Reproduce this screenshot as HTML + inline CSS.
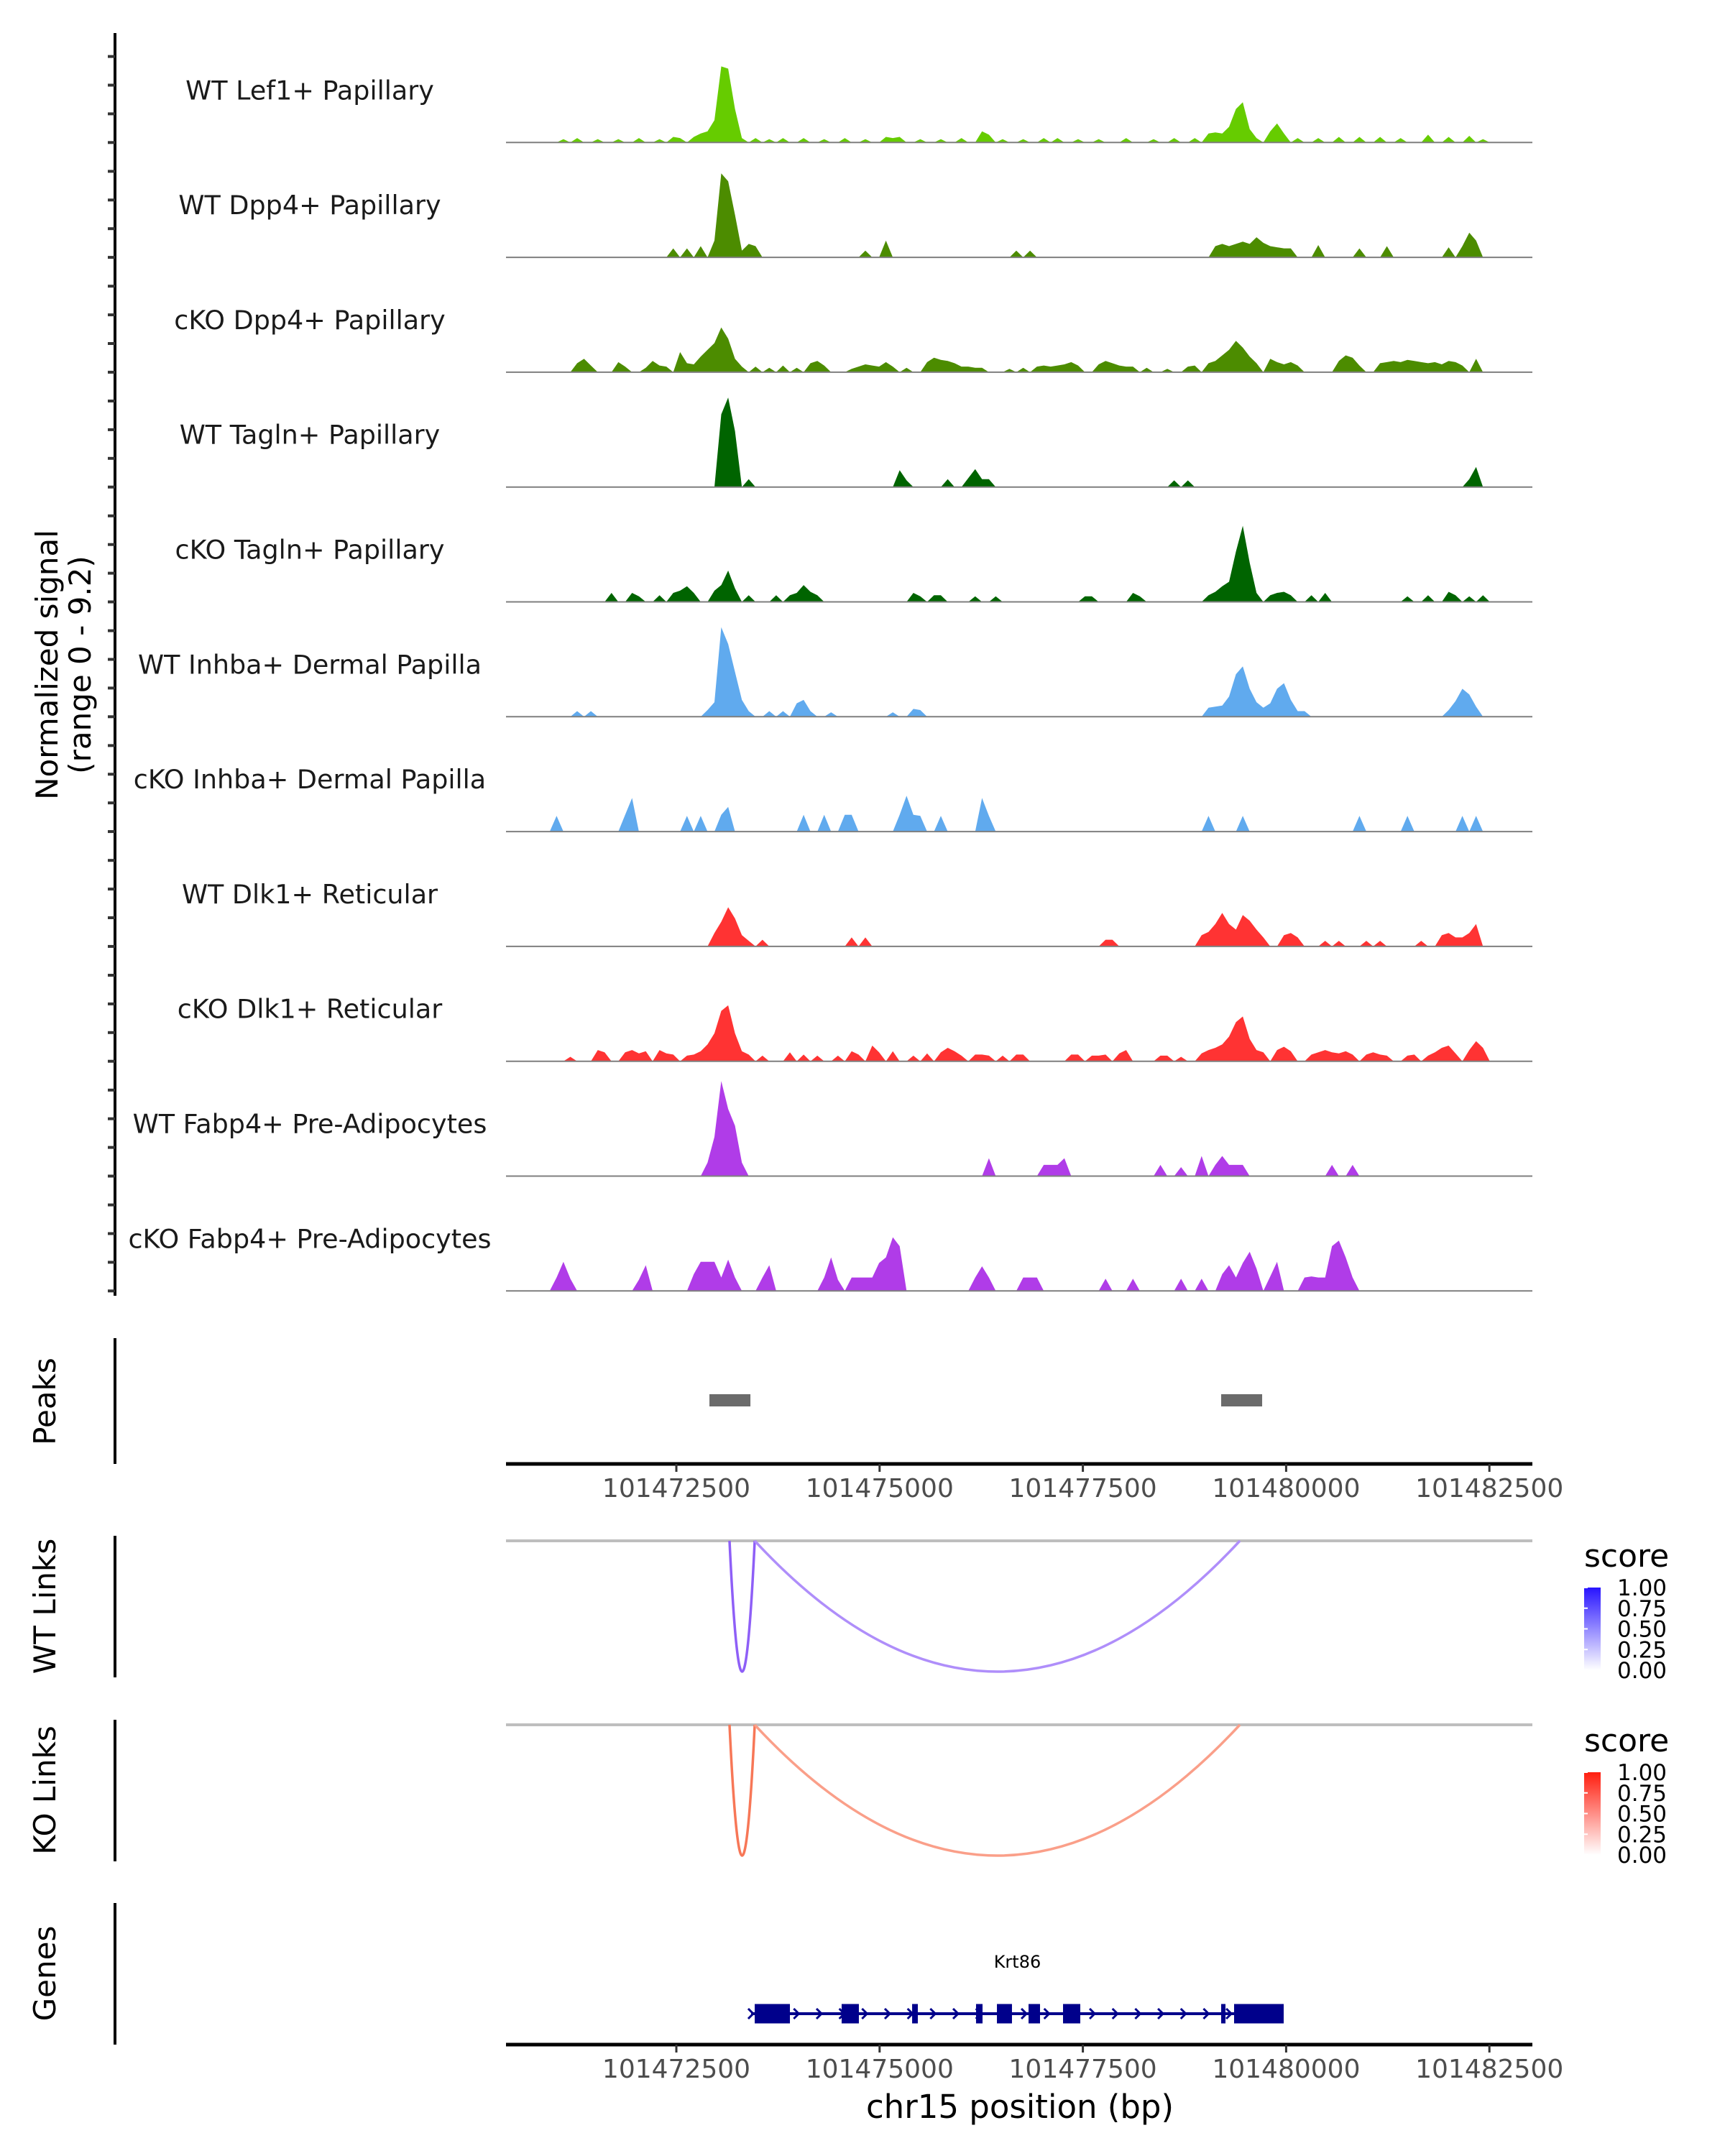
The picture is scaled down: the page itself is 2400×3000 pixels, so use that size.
<!DOCTYPE html>
<html><head><meta charset="utf-8">
<style>
html,body{margin:0;padding:0;background:#fff;}
svg{display:block;font-family:"DejaVu Sans","Liberation Sans",sans-serif;}
</style></head>
<body>
<svg id="fig" width="2400" height="3000" viewBox="0 0 2400 3000" xmlns="http://www.w3.org/2000/svg">
<rect x="0" y="0" width="2400" height="3000" fill="#fff"/>
<g id="tracks"></g>
<g id="peaks"></g>
<g id="links"></g>
<g id="genes"></g>
<g id="axes"></g>
</svg>
<script>
// ---- data ----
const trackNames = ["WT Lef1+ Papillary","WT Dpp4+ Papillary","cKO Dpp4+ Papillary","WT Tagln+ Papillary","cKO Tagln+ Papillary","WT Inhba+ Dermal Papilla","cKO Inhba+ Dermal Papilla","WT Dlk1+ Reticular","cKO Dlk1+ Reticular","WT Fabp4+ Pre-Adipocytes","cKO Fabp4+ Pre-Adipocytes"];
const trackColors = ["#66cc00","#4c8c00","#4c8c00","#006400","#006400","#60aaee","#60aaee","#ff3333","#ff3333","#b03ce8","#b03ce8"];
const binStartBp = 101470394;
const binSizeBp = 84.4;
// sparse signal: [binIndex, value]
const sigLef1WT = [[8,0.3],[10,0.4],[13,0.3],[16,0.3],[19,0.4],[22,0.3],[24,0.5],[25,0.4],[27,0.5],[28,0.8],[29,1.0],[30,2.0],[31,6.8],[32,6.6],[33,3.0],[34,0.4],[36,0.4],[38,0.3],[40,0.4],[43,0.4],[46,0.3],[49,0.4],[52,0.3],[55,0.5],[56,0.4],[57,0.5],[60,0.3],[63,0.3],[66,0.4],[69,1.0],[70,0.7],[72,0.3],[75,0.3],[78,0.4],[80,0.4],[83,0.3],[86,0.3],[90,0.4],[94,0.3],[97,0.4],[100,0.4],[102,0.8],[103,0.9],[104,0.8],[105,1.4],[106,3.0],[107,3.6],[108,1.2],[109,0.4],[111,1.0],[112,1.7],[113,0.8],[115,0.4],[118,0.4],[121,0.5],[124,0.5],[127,0.5],[130,0.4],[134,0.7],[137,0.5],[140,0.6],[142,0.3]];
const sigDpp4WT = [[24,0.8],[26,0.8],[28,1.0],[30,1.5],[31,7.5],[32,6.8],[33,3.8],[34,0.6],[35,1.2],[36,1.0],[52,0.6],[55,1.5],[74,0.6],[76,0.6],[103,1.0],[104,1.2],[105,1.0],[106,1.2],[107,1.4],[108,1.2],[109,1.8],[110,1.3],[111,1.0],[112,0.9],[113,0.8],[114,0.8],[118,1.1],[124,0.8],[128,1.0],[137,0.9],[139,1.0],[140,2.2],[141,1.5]];
const sigDpp4KO = [[10,0.8],[11,1.2],[12,0.6],[16,0.9],[17,0.5],[20,0.4],[21,1.0],[22,0.6],[23,0.5],[25,1.8],[26,0.8],[27,0.7],[28,1.4],[29,2.0],[30,2.6],[31,4.0],[32,3.0],[33,1.2],[34,0.5],[36,0.5],[38,0.4],[40,0.6],[42,0.4],[44,0.8],[45,1.0],[46,0.6],[50,0.3],[51,0.5],[52,0.7],[53,0.6],[54,0.5],[55,0.9],[56,0.5],[58,0.4],[61,0.9],[62,1.3],[63,1.1],[64,1.0],[65,0.8],[66,0.5],[67,0.5],[68,0.4],[69,0.4],[73,0.3],[75,0.4],[77,0.5],[78,0.6],[79,0.5],[80,0.6],[81,0.7],[82,0.9],[83,0.6],[86,0.7],[87,1.0],[88,0.8],[89,0.6],[90,0.5],[91,0.5],[93,0.4],[96,0.3],[99,0.5],[100,0.6],[102,0.8],[103,1.0],[104,1.5],[105,2.0],[106,2.8],[107,2.2],[108,1.4],[109,0.8],[111,1.2],[112,0.9],[113,0.7],[114,0.9],[115,0.6],[121,1.0],[122,1.5],[123,1.3],[124,0.6],[127,0.8],[128,0.9],[129,1.0],[130,0.9],[131,1.1],[132,1.0],[133,0.9],[134,0.8],[135,0.9],[136,0.7],[137,1.0],[138,0.9],[139,0.6],[141,1.2]];
const sigTaglnWT = [[31,6.5],[32,8.0],[33,5.0],[35,0.7],[57,1.5],[58,0.6],[64,0.7],[67,0.8],[68,1.6],[69,0.7],[70,0.7],[97,0.6],[99,0.6],[140,0.7],[141,1.8]];
const sigTaglnKO = [[15,0.8],[18,0.8],[19,0.5],[22,0.6],[24,0.8],[25,1.0],[26,1.4],[27,0.8],[30,1.0],[31,1.5],[32,2.8],[33,1.2],[35,0.6],[39,0.6],[41,0.6],[42,0.8],[43,1.5],[44,0.9],[45,0.6],[59,0.8],[60,0.5],[62,0.6],[63,0.6],[68,0.5],[71,0.5],[84,0.5],[85,0.5],[91,0.8],[92,0.5],[102,0.6],[103,0.9],[104,1.4],[105,1.8],[106,4.5],[107,6.8],[108,3.5],[109,0.8],[111,0.6],[112,0.8],[113,0.9],[114,0.6],[117,0.6],[119,0.8],[131,0.5],[134,0.6],[137,0.9],[138,0.6],[140,0.5],[142,0.6]];
const sigInhbaWT = [[10,0.5],[12,0.5],[29,0.6],[30,1.3],[31,8.0],[32,6.5],[33,4.0],[34,1.5],[35,0.5],[38,0.5],[40,0.5],[42,1.2],[43,1.5],[44,0.5],[47,0.4],[56,0.4],[59,0.7],[60,0.6],[102,0.8],[103,0.9],[104,1.0],[105,1.8],[106,3.8],[107,4.5],[108,2.5],[109,1.3],[110,0.8],[111,1.2],[112,2.5],[113,3.0],[114,1.5],[115,0.5],[116,0.5],[137,0.6],[138,1.4],[139,2.5],[140,2.0],[141,0.9]];
const sigInhbaKO = [[7,1.4],[17,1.5],[18,3.0],[26,1.4],[28,1.4],[31,1.5],[32,2.2],[43,1.5],[46,1.5],[49,1.5],[50,1.5],[57,1.5],[58,3.2],[59,1.5],[60,1.4],[63,1.4],[69,3.0],[70,1.4],[102,1.4],[107,1.4],[124,1.4],[131,1.4],[139,1.4],[141,1.4]];
const sigDlk1WT = [[30,1.2],[31,2.2],[32,3.5],[33,2.5],[34,1.0],[35,0.5],[37,0.6],[50,0.8],[52,0.8],[87,0.6],[88,0.6],[101,1.0],[102,1.3],[103,2.0],[104,3.0],[105,2.0],[106,1.5],[107,2.8],[108,2.3],[109,1.5],[110,0.8],[113,1.0],[114,1.2],[115,0.8],[119,0.5],[121,0.5],[125,0.5],[127,0.5],[133,0.5],[136,1.0],[137,1.2],[138,0.8],[139,0.8],[140,1.2],[141,2.0]];
const sigDlk1KO = [[9,0.4],[13,1.0],[14,0.8],[17,0.8],[18,1.0],[19,0.7],[20,0.9],[22,1.0],[23,0.7],[24,0.6],[26,0.5],[27,0.6],[28,0.9],[29,1.5],[30,2.5],[31,4.5],[32,5.0],[33,2.5],[34,0.9],[35,0.6],[37,0.5],[41,0.8],[43,0.6],[45,0.5],[48,0.5],[50,0.9],[51,0.6],[53,1.4],[54,0.8],[56,0.9],[59,0.5],[61,0.7],[63,0.8],[64,1.2],[65,0.9],[66,0.5],[68,0.6],[69,0.6],[70,0.5],[72,0.5],[74,0.6],[75,0.6],[82,0.6],[83,0.6],[85,0.5],[86,0.5],[87,0.6],[89,0.7],[90,1.0],[95,0.5],[96,0.5],[98,0.4],[101,0.7],[102,1.0],[103,1.2],[104,1.5],[105,2.2],[106,3.5],[107,4.0],[108,2.0],[109,1.0],[110,0.8],[112,1.0],[113,1.3],[114,0.9],[117,0.6],[118,0.8],[119,1.0],[120,0.8],[121,0.7],[122,0.9],[123,0.6],[125,0.6],[126,0.8],[127,0.6],[128,0.5],[131,0.5],[132,0.6],[134,0.5],[135,0.8],[136,1.2],[137,1.4],[138,0.7],[140,1.0],[141,1.8],[142,1.2]];
const sigFabp4WT = [[29,1.2],[30,3.5],[31,8.5],[32,6.0],[33,4.5],[34,1.2],[70,1.6],[78,1.0],[79,1.0],[80,1.0],[81,1.6],[95,1.0],[98,0.8],[101,1.8],[103,1.0],[104,1.8],[105,1.0],[106,1.0],[107,1.0],[120,1.0],[123,1.0]];
const sigFabp4KO = [[7,1.2],[8,2.6],[9,1.1],[19,1.0],[20,2.3],[27,1.5],[28,2.6],[29,2.6],[30,2.6],[31,1.2],[32,2.8],[33,1.2],[37,1.2],[38,2.3],[46,1.2],[47,3.0],[48,1.0],[50,1.2],[51,1.2],[52,1.2],[53,1.2],[54,2.5],[55,3.0],[56,4.8],[57,4.0],[68,1.2],[69,2.2],[70,1.2],[75,1.2],[76,1.2],[77,1.2],[87,1.1],[91,1.1],[98,1.1],[101,1.1],[104,1.5],[105,2.3],[106,1.2],[107,2.5],[108,3.5],[109,2.0],[111,1.3],[112,2.6],[116,1.2],[117,1.3],[118,1.2],[119,1.2],[120,4.0],[121,4.5],[122,3.0],[123,1.2]];
const trackSignals = [sigLef1WT,sigDpp4WT,sigDpp4KO,sigTaglnWT,sigTaglnKO,sigInhbaWT,sigInhbaKO,sigDlk1WT,sigDlk1KO,sigFabp4WT,sigFabp4KO];
const peakStarts = [101472907,101479201];
const peakEnds = [101473411,101479705];
const linkStarts = [101473154,101473464];
const linkEnds = [101473464,101479431];
const linkScoresWT = [0.78,0.55];
const linkScoresKO = [0.78,0.55];
const exonStarts = [101473464,101474533,101475400,101476186,101476443,101476832,101477256,101479201,101479360];
const exonEnds = [101473897,101474745,101475470,101476266,101476628,101476973,101477468,101479254,101479970];
const geneStart = 101473419, geneEnd = 101479970, geneName = "Krt86";
const xTicks = [101472500,101475000,101477500,101480000,101482500];
const legendTicks = ["1.00","0.75","0.50","0.25","0.00"];

// ---- scales ----
const NS = "http://www.w3.org/2000/svg";
const X0 = 704, X1 = 2132;
function xs(bp){ return 941 + (bp - 101472500) * 0.11312; }
const base0 = 198.3, step = 159.8, vScale = 15.57;
function mk(tag, attrs, parent){ const e=document.createElementNS(NS,tag); for(const k in attrs) e.setAttribute(k,attrs[k]); parent.appendChild(e); return e; }

const gT = document.getElementById('tracks');
trackSignals.forEach((sig, k) => {
  const base = base0 + step*k;
  const g = mk('g', {}, gT);
  
  
  const m = new Map(sig);
  const idx = sig.map(d=>d[0]);
  const lo = Math.min(...idx)-1, hi = Math.max(...idx)+1;
  let d = '';
  for (let i=lo;i<=hi;i++){
    const v = m.get(i)||0;
    const x = xs(binStartBp + (i+0.5)*binSizeBp);
    d += (i===lo?'M':'L') + x.toFixed(1) + ',' + (base - v*vScale).toFixed(1);
  }
  d += 'L' + xs(binStartBp+(hi+0.5)*binSizeBp).toFixed(1) + ',' + base + 'L' + xs(binStartBp+(lo+0.5)*binSizeBp).toFixed(1) + ',' + base + 'Z';
  const p = mk('path', {d:d, fill:trackColors[k], stroke:'none'}, g);
  
  
  const bl = mk('line', {x1:X0, x2:X1, y1:base, y2:base, stroke:'#7f7f7f', 'stroke-width':2}, g);
  
  
  const t = mk('text', {x:431, y:base-60, 'font-size':36.5, 'text-anchor':'middle', fill:'#1a1a1a'}, g);
  t.textContent = trackNames[k];
  
  
});

// axes
const gA = document.getElementById('axes');
function vline(x,y1,y2,name){ const l=mk('line',{x1:x,x2:x,y1:y1,y2:y2,stroke:'#000','stroke-width':4},gA);   }
vline(160,46,1803,'signal-y-axis');
for (let k=0;k<11;k++){ for (let j=0;j<4;j++){ const y=base0+step*k-39.9*j; const l=mk('line',{x1:150,x2:160,y1:y,y2:y,stroke:'#333','stroke-width':4},gA);   } }
vline(160,1862,2037,'peaks-y-axis');
vline(160,2137,2334,'wt-links-y-axis');
vline(160,2393,2590,'ko-links-y-axis');
vline(160,2648,2845,'genes-y-axis');
function rotLabel(lines, cx, cy, name){
  const t = mk('text',{transform:`translate(${cx},${cy}) rotate(-90)`,'font-size':42,'text-anchor':'middle',fill:'#000'},gA);
   
  lines.forEach((s,i)=>{ const ts=mk('tspan',{x:0,y:(i-(lines.length-1)/2)*46+15},t); ts.textContent=s; });
}
rotLabel(["Normalized signal","(range 0 - 9.2)"],88,925,'signal-y-title');
rotLabel(["Peaks"],62,1950,'peaks-y-title');
rotLabel(["WT Links"],62,2235,'wt-links-y-title');
rotLabel(["KO Links"],62,2491,'ko-links-y-title');
rotLabel(["Genes"],62,2746,'genes-y-title');
function xAxis(y, name){
  const g = mk('g',{},gA);  
  const l = mk('line',{x1:X0,x2:X1,y1:y,y2:y,stroke:'#000','stroke-width':5},g);
   
  xTicks.forEach(v=>{ const x=xs(v);
    const tk=mk('line',{x1:x,x2:x,y1:y,y2:y+11,stroke:'#333','stroke-width':3},g);
     
    const t=mk('text',{x:x,y:y+46,'font-size':36,'text-anchor':'middle',fill:'#4d4d4d'},g);
    t.textContent=String(v);  
  });
}
xAxis(2037,'peaks-x-axis');
xAxis(2845,'genes-x-axis');
const xt = mk('text',{x:1419,y:2947,'font-size':45,'text-anchor':'middle',fill:'#000'},gA);
xt.textContent='chr15 position (bp)';
 

// peaks
const gP = document.getElementById('peaks');
peakStarts.forEach((s,i)=>{ const r=mk('rect',{x:xs(s),y:1940,width:xs(peakEnds[i])-xs(s),height:17,fill:'#6b6b6b'},gP);
    });

// links
const gL = document.getElementById('links');
function mix(c, s){ return 'rgb(' + c.map(v=>Math.round(255 + (v-255)*s)).join(',') + ')'; }
function linkPanel(base, depth, scores, arcCol, legCol, legY, name){
  const g = mk('g',{},gL);  
  const bl = mk('line',{x1:X0,x2:X1,y1:base,y2:base,stroke:'#bebebe','stroke-width':4},g);
   
  linkStarts.forEach((s,i)=>{
    const a=xs(s), b=xs(linkEnds[i]), c=base+depth*2;
    const p=mk('path',{d:`M${a},${base} Q${(a+b)/2},${c} ${b},${base}`,fill:'none',stroke:mix(arcCol,scores[i]),'stroke-width':3.5},g);
     
  });
  const st = mk('text',{x:2204,y:legY,'font-size':44,fill:'#000'},g);
  st.textContent='score';  
  const gid = name+'-grad';
  const grad = mk('linearGradient',{id:gid,x1:0,y1:1,x2:0,y2:0},mk('defs',{},g));
  mk('stop',{offset:0,'stop-color':'#ffffff'},grad); mk('stop',{offset:1,'stop-color':mix(legCol,1)},grad);
  const r = mk('rect',{x:2204,y:legY+29,width:23,height:115,fill:`url(#${gid})`},g);
   
  legendTicks.forEach((s,i)=>{ const y=legY+29+i*28.75;
    const t=mk('text',{x:2250,y:y+11,'font-size':31,fill:'#000'},g); t.textContent=s;
     
    const tl=mk('line',{x1:2204,x2:2209,y1:y,y2:y,stroke:'#fff','stroke-width':2},g);
     
  });
}
linkPanel(2144, 182, linkScoresWT, [110,50,245], [40,20,255], 2180, 'wt-links');
linkPanel(2400, 182, linkScoresKO, [245,80,40], [255,30,15], 2437, 'ko-links');

// genes
const gG = document.getElementById('genes');
const gy = 2802;
const gl = mk('line',{x1:xs(geneStart),x2:xs(geneEnd),y1:gy,y2:gy,stroke:'#00008b','stroke-width':4},gG);
 
for (let bp=geneStart; bp<geneEnd; bp+=280){
  const x=xs(bp);
  const c=mk('path',{d:`M${x-4},${gy-7} L${x+3},${gy} L${x-4},${gy+7}`,fill:'none',stroke:'#00008b','stroke-width':3},gG);
   
}
exonStarts.forEach((s,i)=>{ const r=mk('rect',{x:xs(s),y:gy-13.5,width:Math.max(4,xs(exonEnds[i])-xs(s)),height:27,fill:'#00008b'},gG);
    });
const gn = mk('text',{x:xs((geneStart+geneEnd)/2),y:2738,'font-size':24,'text-anchor':'middle',fill:'#000'},gG);
gn.textContent=geneName;  
</script>
</body></html>
